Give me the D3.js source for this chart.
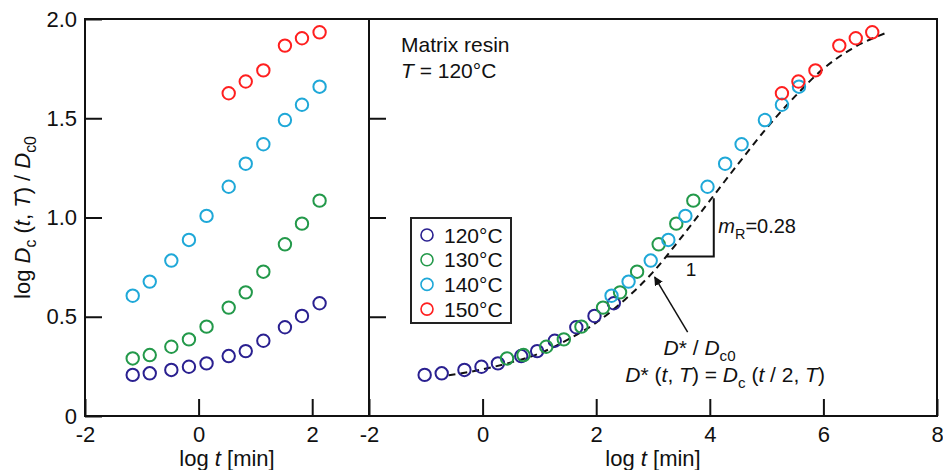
<!DOCTYPE html>
<html>
<head>
<meta charset="utf-8">
<script src="https://cdn.jsdelivr.net/npm/d3@7"></script>
<style>
  body { margin: 0; background: #fff; }
  text { font-family: "Liberation Sans", Arial, sans-serif; fill: #111; }
</style>
</head>
<body>
<script>
// time points (log t) of the raw data, left panel
var tLeft = [-1.16, -0.86, -0.48, -0.17, 0.14, 0.53, 0.83, 1.14, 1.52, 1.82, 2.13];
var tLeft150 = [0.53, 0.83, 1.14, 1.52, 1.82, 2.13];

// log Dc(t,T)/Dc0 for each temperature
var y120 = [0.207, 0.215, 0.232, 0.248, 0.265, 0.302, 0.327, 0.379, 0.447, 0.504, 0.568];
var y130 = [0.290, 0.307, 0.349, 0.386, 0.450, 0.546, 0.623, 0.727, 0.865, 0.969, 1.085];
var y140 = [0.606, 0.677, 0.783, 0.887, 1.008, 1.155, 1.271, 1.369, 1.491, 1.568, 1.659];
var y150 = [1.626, 1.685, 1.741, 1.866, 1.903, 1.933];

// shifted time axis, right panel (master curve at T = 120C)
var x120R = [-1.02, -0.72, -0.32, -0.02, 0.27, 0.68, 0.96, 1.27, 1.65, 1.97, 2.31];
var x130R = [0.43, 0.72, 1.12, 1.43, 1.74, 2.12, 2.42, 2.72, 3.10, 3.41, 3.71];
var x140R = [2.27, 2.57, 2.96, 3.27, 3.57, 3.96, 4.27, 4.56, 4.97, 5.27, 5.57];
var x150R = [5.27, 5.56, 5.86, 6.28, 6.57, 6.86];

// dashed master curve D*/Dc0
var masterX = [-0.6, 0, 0.5, 1.0, 1.5, 2.0, 2.5, 3.0, 3.5, 4.0, 4.5, 5.0, 5.5, 6.0, 6.5, 7.1];
var masterY = [0.205, 0.235, 0.27, 0.315, 0.385, 0.47, 0.585, 0.725, 0.9, 1.085, 1.27, 1.45, 1.61, 1.75, 1.85, 1.93];

var labels = ["120°C", "130°C", "140°C", "150°C"];
var colors = ["#2a2090", "#23994a", "#1fa8d8", "#ff1f1f"];

var yTicks = [0, 0.5, 1.0, 1.5, 2.0];
var xTicksLeft = [-2, 0, 2];
var xTicksRight = [-2, 0, 2, 4, 6, 8];

var width = 943, height = 470;
var top_y = 19, bottom_y = 416;

var svg = d3.select("body").append("svg")
  .attr("width", width)
  .attr("height", height);

var y = d3.scaleLinear().domain([0, 2]).range([bottom_y, top_y]);
var xL = d3.scaleLinear().domain([-2, 3]).range([85, 369]);
var xR = d3.scaleLinear().domain([-2, 8]).range([369, 937]);

// rich text helper: segments {t, i (italic), sub}
function richText(sel, segs, size) {
  var shift = 0;
  segs.forEach(function(s) {
    var ts = sel.append("tspan").text(s.t);
    if (s.i) ts.style("font-style", "italic");
    if (s.sub && shift === 0) { ts.attr("dy", size * 0.28).style("font-size", (size * 0.72) + "px"); shift = size * 0.28; }
    else if (!s.sub && shift !== 0) { ts.attr("dy", -shift); shift = 0; }
    else if (s.sub) ts.style("font-size", (size * 0.72) + "px");
  });
}

function styleAxis(g, size) {
  g.select(".domain").remove();
  g.selectAll(".tick line").attr("stroke", "#111").attr("stroke-width", 2);
  g.selectAll(".tick text").style("font-size", size + "px").attr("fill", "#111");
}

// left panel axes
svg.append("g")
  .attr("transform", "translate(0," + bottom_y + ")")
  .call(d3.axisBottom(xL).tickValues(xTicksLeft).tickSize(-17).tickPadding(10).tickFormat(function(d) { return String(d); }))
  .call(styleAxis, 22);

svg.append("g")
  .attr("transform", "translate(85,0)")
  .call(d3.axisLeft(y).tickValues(yTicks).tickSize(-17).tickPadding(8)
    .tickFormat(function(d) { return d === 0 ? "0" : d3.format(".1f")(d); }))
  .call(styleAxis, 22);

// right panel axes
svg.append("g")
  .attr("transform", "translate(0," + bottom_y + ")")
  .call(d3.axisBottom(xR).tickValues(xTicksRight).tickSize(-17).tickPadding(10).tickFormat(function(d) { return String(d); }))
  .call(styleAxis, 22);

svg.append("g")
  .attr("transform", "translate(369,0)")
  .call(d3.axisLeft(y).tickValues([0.5, 1.0, 1.5]).tickSize(-17).tickFormat(""))
  .call(styleAxis, 22);

// frames
[[xL, 85, 369], [xR, 369, 937]].forEach(function(p) {
  svg.append("rect")
    .attr("x", p[1]).attr("y", top_y)
    .attr("width", p[2] - p[1]).attr("height", bottom_y - top_y)
    .attr("fill", "none").attr("stroke", "#111").attr("stroke-width", 2);
});

// master curve
var line = d3.line()
  .x(function(d, i) { return xR(masterX[i]); })
  .y(function(d) { return y(d); })
  .curve(d3.curveMonotoneX);

svg.append("path")
  .attr("d", line(masterY))
  .attr("fill", "none")
  .attr("stroke", "#111")
  .attr("stroke-width", 2)
  .attr("stroke-dasharray", "7,5");

// points
var leftSets = [[tLeft, y120], [tLeft, y130], [tLeft, y140], [tLeft150, y150]];
var rightSets = [[x120R, y120], [x130R, y130], [x140R, y140], [x150R, y150]];

function drawPoints(sets, x) {
  sets.forEach(function(s, k) {
    svg.append("g").selectAll("circle")
      .data(s[1])
      .join("circle")
      .attr("cx", function(d, i) { return x(s[0][i]); })
      .attr("cy", function(d) { return y(d); })
      .attr("r", 6.2)
      .attr("fill", "none")
      .attr("stroke", colors[k])
      .attr("stroke-width", 2);
  });
}
drawPoints(leftSets, xL);
drawPoints(rightSets, xR);

// legend
var legend = svg.append("g");
legend.append("rect")
  .attr("x", 411).attr("y", 218).attr("width", 100).attr("height", 105)
  .attr("fill", "#fff").attr("stroke", "#222").attr("stroke-width", 2);
labels.forEach(function(l, k) {
  legend.append("circle")
    .attr("cx", 427).attr("cy", 235 + k * 24.7).attr("r", 6)
    .attr("fill", "none").attr("stroke", colors[k]).attr("stroke-width", 1.6);
  legend.append("text")
    .attr("x", 444).attr("y", 235 + k * 24.7).attr("dy", "0.36em")
    .style("font-size", "21px").text(l);
});

// panel annotations
svg.append("text").attr("x", 401).attr("y", 52).style("font-size", "21px").text("Matrix resin");
var tt = svg.append("text").attr("x", 401).attr("y", 78).style("font-size", "21px");
richText(tt, [{t: "T", i: true}, {t: " = 120°C"}], 21);

// slope triangle
svg.append("path")
  .attr("d", "M" + xR(3.23) + "," + y(0.803) + "H" + xR(4.07) + "V" + y(1.097))
  .attr("fill", "none").attr("stroke", "#111").attr("stroke-width", 2);
svg.append("text").attr("x", xR(3.67)).attr("y", y(0.705)).attr("text-anchor", "middle")
  .style("font-size", "19px").text("1");
var mr = svg.append("text").attr("x", xR(4.15)).attr("y", y(0.92)).style("font-size", "20px");
richText(mr, [{t: "m", i: true}, {t: "R", sub: true}, {t: "=0.28"}], 20);

// arrow
svg.append("defs").append("marker")
  .attr("id", "arrow").attr("viewBox", "0 0 10 10")
  .attr("refX", 9).attr("refY", 5)
  .attr("markerWidth", 9).attr("markerHeight", 9)
  .attr("markerUnits", "userSpaceOnUse")
  .attr("orient", "auto")
  .append("path").attr("d", "M0,0L10,5L0,10z").attr("fill", "#111");
svg.append("line")
  .attr("x1", xR(3.61)).attr("y1", y(0.423))
  .attr("x2", xR(3.03)).attr("y2", y(0.70))
  .attr("stroke", "#111").attr("stroke-width", 1.5)
  .attr("marker-end", "url(#arrow)");

var a1 = svg.append("text").attr("x", xR(3.82)).attr("y", y(0.307)).attr("text-anchor", "middle").style("font-size", "21px");
richText(a1, [{t: "D", i: true}, {t: "* / "}, {t: "D", i: true}, {t: "c0", sub: true}], 21);
var a2 = svg.append("text").attr("x", xR(4.27)).attr("y", y(0.171)).attr("text-anchor", "middle").style("font-size", "21px");
richText(a2, [{t: "D", i: true}, {t: "* ("}, {t: "t", i: true}, {t: ", "}, {t: "T", i: true}, {t: ") = "},
  {t: "D", i: true}, {t: "c", sub: true}, {t: " ("}, {t: "t", i: true}, {t: " / 2, "}, {t: "T", i: true}, {t: ")"}], 21);

// axis titles
[[xL, -2, 3], [xR, -2, 8]].forEach(function(p) {
  var t = svg.append("text")
    .attr("x", (p[0](p[1]) + p[0](p[2])) / 2).attr("y", 466)
    .attr("text-anchor", "middle").style("font-size", "22px");
  richText(t, [{t: "log "}, {t: "t", i: true}, {t: " [min]"}], 22);
});

var yl = svg.append("text")
  .attr("transform", "translate(30," + (y(1) - 0) + ") rotate(-90)")
  .attr("text-anchor", "middle").style("font-size", "22px");
richText(yl, [{t: "log "}, {t: "D", i: true}, {t: "c", sub: true}, {t: " ("}, {t: "t", i: true}, {t: ", "},
  {t: "T", i: true}, {t: ") / "}, {t: "D", i: true}, {t: "c0", sub: true}], 22);
</script>
</body>
</html>
